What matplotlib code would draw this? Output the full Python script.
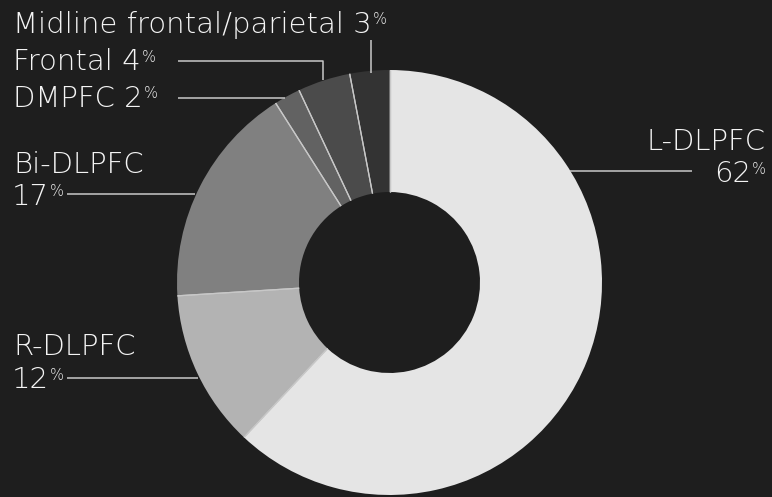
import matplotlib
matplotlib.use("Agg")
import matplotlib.pyplot as plt
import numpy as np

# ---- data ----
categories = ["L-DLPFC", "R-DLPFC", "Bi-DLPFC", "DMPFC", "Frontal", "Midline frontal/parietal"]
values = [62, 12, 17, 2, 4, 3]
colors = ["#e5e5e5", "#b3b3b3", "#808080", "#626262", "#4b4b4b", "#333333"]

BG = "#1e1e1e"
LINE = "#c8c8c8"
TXT = "#f4f4f4"
W, H = 772, 497

fig = plt.figure(figsize=(W / 100, H / 100), dpi=100, facecolor=BG)
ax = fig.add_axes([0, 0, 1, 1])
ax.set_facecolor(BG)

def Y(y):
    return H - y

cx, cy = 389.5, 282.5
R_out, R_in = 212.5, 90.5
wedges, _ = ax.pie(values, colors=colors, startangle=90, counterclock=False,
                   center=(cx, Y(cy)), radius=R_out,
                   wedgeprops=dict(width=R_out - R_in, edgecolor="none", linewidth=0))
# light separators between slices (radial only)
for w in wedges:
    for ang in (w.theta1, w.theta2):
        a = np.deg2rad(ang)
        ax.plot([cx + R_in * np.cos(a), cx + R_out * np.cos(a)],
                [Y(cy) + R_in * np.sin(a), Y(cy) + R_out * np.sin(a)],
                color=LINE, lw=0.9, solid_capstyle="butt", zorder=3)
ax.set_xlim(0, W)
ax.set_ylim(0, H)
ax.set_aspect("auto")
ax.axis("off")

FONT = ["DejaVu Sans"]
WT = 200
FS = 21
PFS = 10.5

fig.canvas.draw()
renderer = fig.canvas.get_renderer()
inv = ax.transData.inverted()

def extent(t):
    bb = t.get_window_extent(renderer=renderer)
    (x0, _), (x1, _) = inv.transform([(bb.x0, 0), (bb.x1, 0)])
    return x0, x1

def txt(x, yb, s, ha="left", fs=FS):
    return ax.text(x, Y(yb), s, ha=ha, va="baseline", fontsize=fs,
                   color=TXT, family=FONT, fontweight=WT)

def label_left(x, yb, main):
    t = txt(x, yb, main)
    x0, x1 = extent(t)
    txt(x1 + 1, yb - 8.5, "%", fs=PFS)

def label_right(x, yb, main):
    p = txt(x, yb - 8.5, "%", ha="right", fs=PFS)
    x0, x1 = extent(p)
    txt(x0 - 1, yb, main, ha="right")

# labels
label_left(13, 33, f"{categories[5]} {values[5]}")
label_left(13, 70, f"{categories[4]} {values[4]}")
label_left(13, 107, f"{categories[3]} {values[3]}")
txt(13, 173, categories[2])
label_left(12, 205, f"{values[2]}")
txt(13, 355, categories[1])
label_left(12, 388, f"{values[1]}")
txt(766, 150, categories[0], ha="right")
label_right(766, 182, f"{values[0]}")

# leader lines
def seg(xs, ys):
    ax.plot(xs, [Y(v) for v in ys], color=LINE, lw=1.1, solid_capstyle="butt")

seg([371, 371], [40, 73])
seg([178, 323, 323], [61, 61, 80])
seg([178, 285], [98, 98])
seg([67, 195], [194, 194])
seg([67, 198], [378, 378])
seg([570, 692], [171, 171])

fig.savefig("out.png", dpi=100, facecolor=BG)
